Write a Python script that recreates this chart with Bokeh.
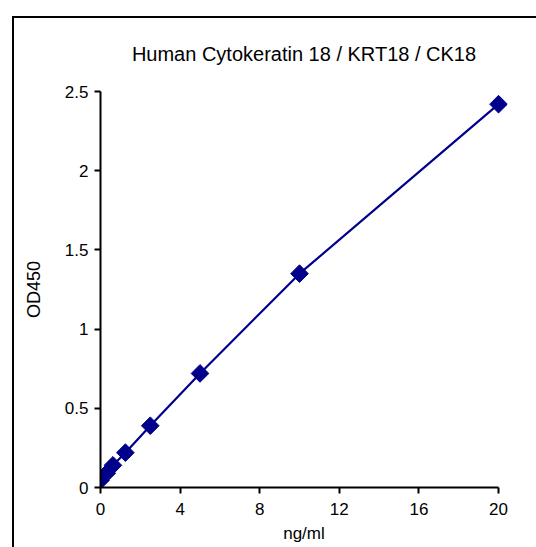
import numpy as np
from bokeh.plotting import figure
from bokeh.models import Range1d, FixedTicker, LinearAxis
from bokeh.embed import file_html
from bokeh.resources import INLINE

# Data
conc = [0, 0.3125, 0.625, 1.25, 2.5, 5, 10, 20]
od450 = [0.045, 0.09, 0.14, 0.22, 0.39, 0.72, 1.35, 2.42]
x_ticks = [0, 4, 8, 12, 16, 20]
x_tick_labels = ["0", "4", "8", "12", "16", "20"]
y_ticks = [0, 0.5, 1, 1.5, 2, 2.5]
y_tick_labels = ["0", "0.5", "1", "1.5", "2", "2.5"]
title_text = "Human Cytokeratin 18 / KRT18 / CK18"
x_label = "ng/ml"
y_label = "OD450"

NAVY = "#00008B"
FONT = "Liberation Sans"

p = figure(width=516, height=529, output_backend="svg", toolbar_location=None,
           x_range=Range1d(0, 20.45), y_range=Range1d(0, 2.5),
           min_border_left=86, min_border_right=23, min_border_top=73, min_border_bottom=60)
# outer frame line (left and top edges only, as in the cropped original)
p.styles = {"margin-left": "14px", "margin-top": "18px",
            "box-shadow": "100px 100px 0px 100px white, 49px 49px 0px 51px black"}
p.title.visible = False

p.xgrid.visible = False
p.ygrid.visible = False
p.outline_line_color = None
p.background_fill_color = "white"
p.border_fill_color = "white"

for ax, ticks, labels in ((p.xaxis[0], x_ticks, x_tick_labels), (p.yaxis[0], y_ticks, y_tick_labels)):
    ax.ticker = FixedTicker(ticks=ticks)
    ax.major_label_overrides = {t: l for t, l in zip(ticks, labels)}
    ax.axis_line_color = "black"
    ax.axis_line_width = 2
    ax.major_tick_line_color = "black"
    ax.major_tick_line_width = 2
    ax.major_tick_in = 0
    ax.major_tick_out = 6
    ax.minor_tick_line_color = None
    ax.major_label_text_font = FONT
    ax.major_label_text_font_size = "17px"
    ax.major_label_text_color = "black"
    ax.axis_label_text_font = FONT
    ax.axis_label_text_font_size = "18px"
    ax.axis_label_text_font_style = "normal"
    ax.axis_label_text_color = "black"

p.xaxis.bounds = (x_ticks[0], x_ticks[-1])
p.xaxis.axis_label_text_font_size = "17px"
p.xaxis.axis_label = x_label
p.yaxis.axis_label = y_label
p.xaxis.major_label_standoff = 9
p.xaxis.axis_label_standoff = 6
p.yaxis.major_label_standoff = 6
p.yaxis.axis_label_standoff = 18

# Title drawn as the label of an empty axis above the plot
title_axis = LinearAxis(ticker=FixedTicker(ticks=[]), axis_line_color=None,
                        major_tick_out=0, major_tick_in=0, minor_tick_line_color=None,
                        axis_label=title_text,
                        axis_label_text_font=FONT, axis_label_text_font_size="20px",
                        axis_label_text_font_style="normal", axis_label_text_color="black",
                        axis_label_standoff=27)
p.add_layout(title_axis, "above")

p.line(conc, od450, line_color=NAVY, line_width=2.2)
p.scatter(conc, od450, marker="square", angle=np.pi / 4, size=12.5,
          fill_color=NAVY, line_color=NAVY)

open("out.html", "w").write(file_html(p, INLINE))
